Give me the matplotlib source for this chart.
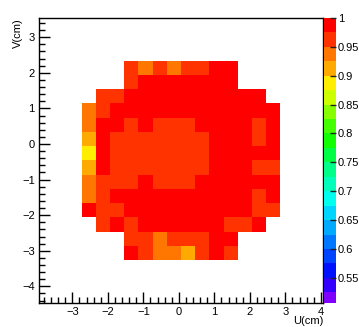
import numpy as np
import matplotlib
matplotlib.use('Agg')
import matplotlib.pyplot as plt
from matplotlib.colors import ListedColormap, Normalize

plt.rcParams['font.family'] = ['Liberation Sans', 'DejaVu Sans']
plt.rcParams['font.size'] = 8

# histogram binning (cm)
bin_width = 0.4
u_first = -2.74     # lower edge of first filled column
v_top = 2.34        # upper edge of first filled row
u_range = (-3.94, 4.06)
v_range = (-4.46, 3.54)

# efficiency per cell, rows from top (v = 2.34) to bottom, columns from left
n = np.nan
eff_rows = [
    [n, n, n, 0.962, 0.937, 0.962, 0.937, 0.962, 0.962, 0.985, 0.985, n, n, n],
    [n, n, n, 0.962, 0.985, 0.985, 0.985, 0.985, 0.985, 0.985, 0.985, n, n, n],
    [n, 0.962, 0.962, 0.985, 0.985, 0.985, 0.985, 0.985, 0.985, 0.985, 0.985, 0.985, 0.985, n],
    [0.937, 0.962, 0.985, 0.985, 0.985, 0.985, 0.985, 0.985, 0.985, 0.985, 0.985, 0.985, 0.985, 0.985],
    [0.937, 0.985, 0.985, 0.962, 0.985, 0.962, 0.962, 0.962, 0.985, 0.985, 0.985, 0.985, 0.962, 0.985],
    [0.912, 0.985, 0.962, 0.962, 0.962, 0.962, 0.962, 0.962, 0.962, 0.985, 0.985, 0.985, 0.962, 0.985],
    [0.888, 0.985, 0.962, 0.962, 0.962, 0.962, 0.962, 0.962, 0.962, 0.985, 0.985, 0.985, 0.985, 0.985],
    [0.912, 0.985, 0.962, 0.962, 0.962, 0.962, 0.962, 0.962, 0.962, 0.985, 0.985, 0.985, 0.962, 0.962],
    [0.937, 0.962, 0.962, 0.962, 0.985, 0.962, 0.962, 0.962, 0.985, 0.985, 0.985, 0.985, 0.985, 0.985],
    [0.937, 0.962, 0.985, 0.985, 0.985, 0.985, 0.985, 0.985, 0.985, 0.985, 0.985, 0.985, 0.962, 0.985],
    [0.985, 0.962, 0.962, 0.985, 0.985, 0.985, 0.985, 0.985, 0.985, 0.985, 0.985, 0.985, 0.962, 0.962],
    [n, 0.962, 0.985, 0.962, 0.985, 0.985, 0.985, 0.985, 0.985, 0.985, 0.962, 0.962, 0.985, n],
    [n, n, n, 0.962, 0.962, 0.937, 0.962, 0.962, 0.962, 0.985, 0.985, n, n, n],
    [n, n, n, 0.985, 0.962, 0.937, 0.937, 0.912, 0.962, 0.985, 0.962, n, n, n],
]

# ROOT-like rainbow palette, 20 levels from 0.5 to 1.0
palette = ['#7f00ff', '#3300ff', '#0011ff', '#0044ff', '#0077ff',
           '#00aaff', '#00d5ff', '#00ffee', '#00ffbb', '#00ff88',
           '#00ff44', '#11ff00', '#44ff00', '#88ff00', '#ccff00',
           '#ffee00', '#ffaa00', '#ff7700', '#ff3300', '#ff0000']
z_min, z_max = 0.507, 1.0
cbar_ticks = [0.55, 0.6, 0.65, 0.7, 0.75, 0.8, 0.85, 0.9, 0.95, 1.0]

eff = np.array(eff_rows)
ny, nx = eff.shape
u_edges = u_first + bin_width * np.arange(nx + 1)
v_edges = v_top - bin_width * np.arange(ny + 1)

fig = plt.figure(figsize=(3.59, 3.27), dpi=100)
ax = fig.add_axes([39 / 359, 1 - 302.7 / 327, 284 / 359, 284.7 / 327])
cax = fig.add_axes([324.3 / 359, 1 - 302.7 / 327, 11.4 / 359, 284.7 / 327])

cmap = ListedColormap(palette)
mesh = ax.pcolormesh(u_edges, v_edges, np.ma.masked_invalid(eff),
                     cmap=cmap, norm=Normalize(0.5, 1.0))

ax.set_xlim(*u_range)
ax.set_ylim(*v_range)
ax.set_xticks(np.arange(-3, 5, 1))
ax.set_yticks(np.arange(-4, 4, 1))
ax.set_xticks(np.arange(-3.8, 4.1, 0.2), minor=True)
ax.set_yticks(np.arange(-4.4, 3.6, 0.2), minor=True)
ax.tick_params(which='both', direction='in', top=False, right=False, width=1)
ax.tick_params(which='major', length=8, pad=3)
ax.tick_params(which='minor', length=4)
for s in ax.spines.values():
    s.set_linewidth(1)

ax.text(1.0, -0.066, 'U(cm)', ha='right', va='center', transform=ax.transAxes)
ax.text(-0.073, 1.0, 'V(cm)', ha='center', va='top', rotation=90,
        transform=ax.transAxes)

cbar = fig.colorbar(mesh, cax=cax)
cbar.outline.set_visible(False)
cbar.set_ticks(cbar_ticks)
cbar.set_ticklabels(['%g' % t for t in cbar_ticks])
cax.set_ylim(z_min, z_max)
cax.tick_params(direction='in', length=4, width=1, pad=1.5, color='#202020')
cax.minorticks_off()

fig.savefig('out.png', dpi=100)
